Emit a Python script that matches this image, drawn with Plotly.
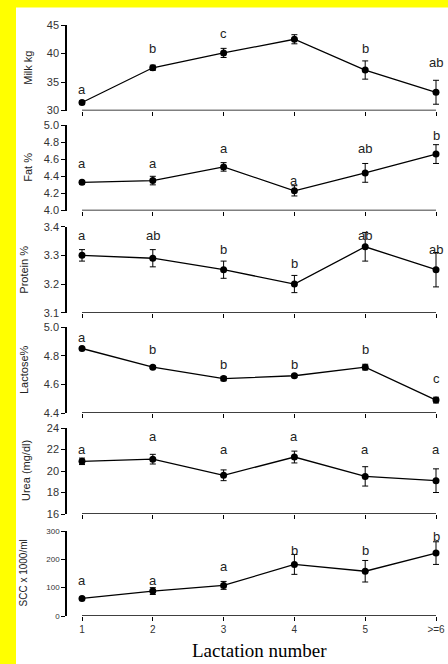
import plotly.graph_objects as go

W, H = 448, 664

lactation = [1, 2, 3, 4, 5, 6]
tick_labels = ["1", "2", "3", "4", "5", ">=6"]

milk = [31.4, 37.5, 40.1, 42.5, 37.1, 33.2]
milk_err = [0.3, 0.45, 0.8, 0.8, 1.6, 2.1]
milk_letters = ["a", "b", "c", "c", "b", "ab"]
milk_letter_y = [33.6, 40.9, 43.5, 46.0, 40.9, 38.5]

fat = [4.33, 4.35, 4.51, 4.23, 4.44, 4.66]
fat_err = [0.02, 0.05, 0.05, 0.06, 0.11, 0.11]
fat_letters = ["a", "a", "a", "a", "ab", "b"]
fat_letter_y = [4.55, 4.55, 4.72, 4.35, 4.72, 4.88]

protein = [3.30, 3.29, 3.25, 3.20, 3.33, 3.25]
protein_err = [0.02, 0.03, 0.03, 0.03, 0.05, 0.06]
protein_letters = ["a", "ab", "b", "b", "ab", "ab"]
protein_letter_y = [3.37, 3.37, 3.322, 3.27, 3.37, 3.322]

lactose = [4.85, 4.72, 4.64, 4.66, 4.72, 4.49]
lactose_err = [0.005, 0.01, 0.015, 0.01, 0.02, 0.02]
lactose_letters = ["a", "b", "b", "b", "b", "c"]
lactose_letter_y = [4.93, 4.84, 4.74, 4.74, 4.84, 4.64]

urea = [20.9, 21.1, 19.6, 21.3, 19.5, 19.1]
urea_err = [0.3, 0.45, 0.5, 0.55, 0.9, 1.1]
urea_letters = ["a", "a", "a", "a", "a", "a"]
urea_letter_y = [22.0, 23.2, 22.0, 23.2, 22.0, 22.0]

scc = [62, 88, 108, 182, 158, 222]
scc_err = [4, 12, 14, 35, 38, 40]
scc_letters = ["a", "a", "a", "b", "b", "b"]
scc_letter_y = [126, 126, 176, 230, 230, 282]

panels = [
    dict(name="Milk kg", y=milk, e=milk_err, L=milk_letters, Ly=milk_letter_y,
         rng=[30, 45], ticks=[30, 35, 40, 45], fmt=None, top=25, bot=110.5, tx=28, tfs=11, ytf=11),
    dict(name="Fat %", y=fat, e=fat_err, L=fat_letters, Ly=fat_letter_y,
         rng=[4.0, 5.0], ticks=[4.0, 4.2, 4.4, 4.6, 4.8, 5.0], fmt=".1f", top=125, bot=210.5, tx=28, tfs=11, ytf=11),
    dict(name="Protein %", y=protein, e=protein_err, L=protein_letters, Ly=protein_letter_y,
         rng=[3.1, 3.4], ticks=[3.1, 3.2, 3.3, 3.4], fmt=".1f", top=226.7, bot=312.7, tx=24, tfs=11, ytf=11),
    dict(name="Lactose%", y=lactose, e=lactose_err, L=lactose_letters, Ly=lactose_letter_y,
         rng=[4.4, 5.0], ticks=[4.4, 4.6, 4.8, 5.0], fmt=".1f", top=327, bot=413, tx=24, tfs=11, ytf=11),
    dict(name="Urea (mg/dl)", y=urea, e=urea_err, L=urea_letters, Ly=urea_letter_y,
         rng=[16, 24], ticks=[16, 18, 20, 22, 24], fmt=None, top=428, bot=514, tx=26, tfs=11, ytf=11),
    dict(name="SCC x 1000/ml", y=scc, e=scc_err, L=scc_letters, Ly=scc_letter_y,
         rng=[0, 300], ticks=[0, 100, 200, 300], fmt=None, top=531, bot=616, tx=23, tfs=10, ytf=8),
]

x_left, x_right = 67, 440
x_range = [1 - (82 - x_left) / 70.8, 6 + (x_right - 436) / 70.8]

fig = go.Figure()
layout = dict(
    width=W, height=H,
    autosize=False,
    margin=dict(l=0, r=0, t=0, b=0, autoexpand=False),
    paper_bgcolor="#FFFF00",
    plot_bgcolor="white",
    showlegend=False,
    shapes=[dict(type="rect", xref="paper", yref="paper", x0=16 / W, x1=1, y0=0, y1=1 - 7.5 / H,
                 fillcolor="white", line=dict(width=0), layer="below")],
    annotations=[],
)

for i, p in enumerate(panels):
    n = i + 1
    xa = "x" if n == 1 else f"x{n}"
    ya = "y" if n == 1 else f"y{n}"
    fig.add_trace(go.Scatter(
        x=lactation, y=p["y"], xaxis=xa, yaxis=ya, mode="lines+markers",
        line=dict(color="black", width=1.3),
        marker=dict(color="black", size=7),
        error_y=dict(type="data", array=p["e"], color="black", thickness=1, width=3),
        cliponaxis=False,
    ))
    dom_y = [1 - p["bot"] / H, 1 - p["top"] / H]
    last = (n == len(panels))
    layout[f"xaxis{'' if n == 1 else n}"] = dict(
        domain=[x_left / W, x_right / W], range=x_range, anchor=ya, automargin=False,
        showgrid=False, zeroline=False, showline=False,
        tickmode="array", tickvals=lactation, ticktext=tick_labels,
        ticks="outside", ticklen=4, tickwidth=1.3, tickcolor="black",
        showticklabels=last, tickfont=dict(family="Liberation Sans, Arial, sans-serif", size=10, color="#333333"),
    )
    ydict = dict(
        domain=dom_y, range=p["rng"], anchor=xa, automargin=False,
        showgrid=False, zeroline=False, showline=True, linecolor="black", linewidth=1.5,
        tickmode="array", tickvals=p["ticks"],
        ticks="outside", ticklen=4, tickwidth=1.3, tickcolor="black",
        tickfont=dict(family="Liberation Sans, Arial, sans-serif", size=p["ytf"], color="#333333"),
    )
    if p["fmt"]:
        ydict["tickformat"] = p["fmt"]
    layout[f"yaxis{'' if n == 1 else n}"] = ydict
    layout["shapes"].append(dict(type="line", xref=xa, yref=ya, x0=1, x1=6, y0=p["rng"][0], y1=p["rng"][0],
                                 line=dict(color="black", width=1.5)))
    for xv, lt, ly in zip(lactation, p["L"], p["Ly"]):
        layout["annotations"].append(dict(
            x=xv, y=ly, xref=xa, yref=ya, text=lt, showarrow=False,
            font=dict(family="Liberation Sans, Arial, sans-serif", size=13, color="#222222"),
        ))
    layout["annotations"].append(dict(
        x=p["tx"] / W, y=1 - (p["top"] + p["bot"]) / 2 / H, xref="paper", yref="paper",
        text=p["name"], textangle=-90, showarrow=False, xanchor="center", yanchor="middle",
        font=dict(family="Liberation Sans, Arial, sans-serif", size=p["tfs"], color="#222222"),
    ))

layout["annotations"].append(dict(
    x=(82 + 436) / 2 / W, y=1 / H, xref="paper", yref="paper", text="Lactation number",
    showarrow=False, xanchor="center", yanchor="bottom",
    font=dict(family="Liberation Serif, Times New Roman, serif", size=19, color="black"),
))

fig.update_layout(**layout)
fig.write_html("out.html", config={"displayModeBar": False},
               post_script="document.body.style.margin='0';document.body.style.overflow='hidden';")
